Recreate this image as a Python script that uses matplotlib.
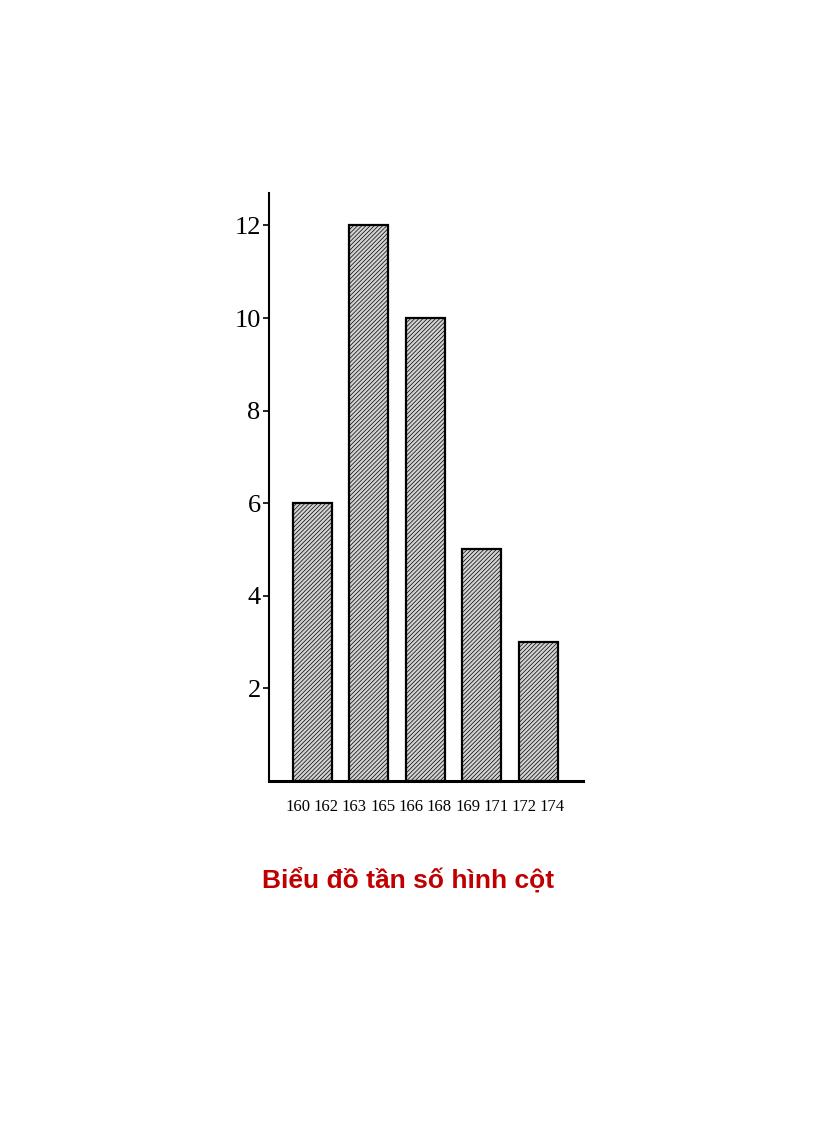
import numpy as np
import matplotlib
matplotlib.use('Agg')
import matplotlib.pyplot as plt

# data
lows = [160, 163, 166, 169, 172]
highs = [162, 165, 168, 171, 174]
freq = [6, 12, 10, 5, 3]
yticks = [2, 4, 6, 8, 10, 12]
title = 'Biểu đồ tần số hình cột'

fig = plt.figure(figsize=(8.16, 11.23), dpi=100)
ax = fig.add_axes([0.3297, 0.3046, 0.3848, 0.5235])

plt.rcParams['hatch.color'] = '#adadad'
plt.rcParams['hatch.linewidth'] = 0.5
x = np.arange(len(freq))
ax.bar(x, freq, width=0.69, color='#d2d2d2', edgecolor='black',
       linewidth=1.6, hatch='////////')

ax.set_xlim(-0.76, len(freq) - 1 + 0.79)
ax.set_ylim(0, 12.7)
ax.set_yticks(yticks)
ax.set_yticklabels([str(v) for v in yticks], family='Liberation Serif', fontsize=19)

# two labels under each bar: lower and upper bound of the class
pos = np.concatenate([x - 0.25, x + 0.25])
labs = [str(v) for v in lows] + [str(v) for v in highs]
ax.set_xticks(pos)
ax.set_xticklabels(labs, family='Liberation Serif', fontsize=12)
ax.tick_params(axis='x', length=0, pad=13)
ax.tick_params(axis='y', length=4, width=1.2, pad=2)

for s in ['top', 'right']:
    ax.spines[s].set_visible(False)
ax.spines['left'].set_linewidth(1.5)
ax.spines['bottom'].set_linewidth(2.2)

fig.text(0.5, 1 - 880 / 1123, title, ha='center', va='center',
         family='Liberation Sans', fontweight='bold',
         fontsize=19, color='#c00000')

fig.savefig('out.png', dpi=100)
